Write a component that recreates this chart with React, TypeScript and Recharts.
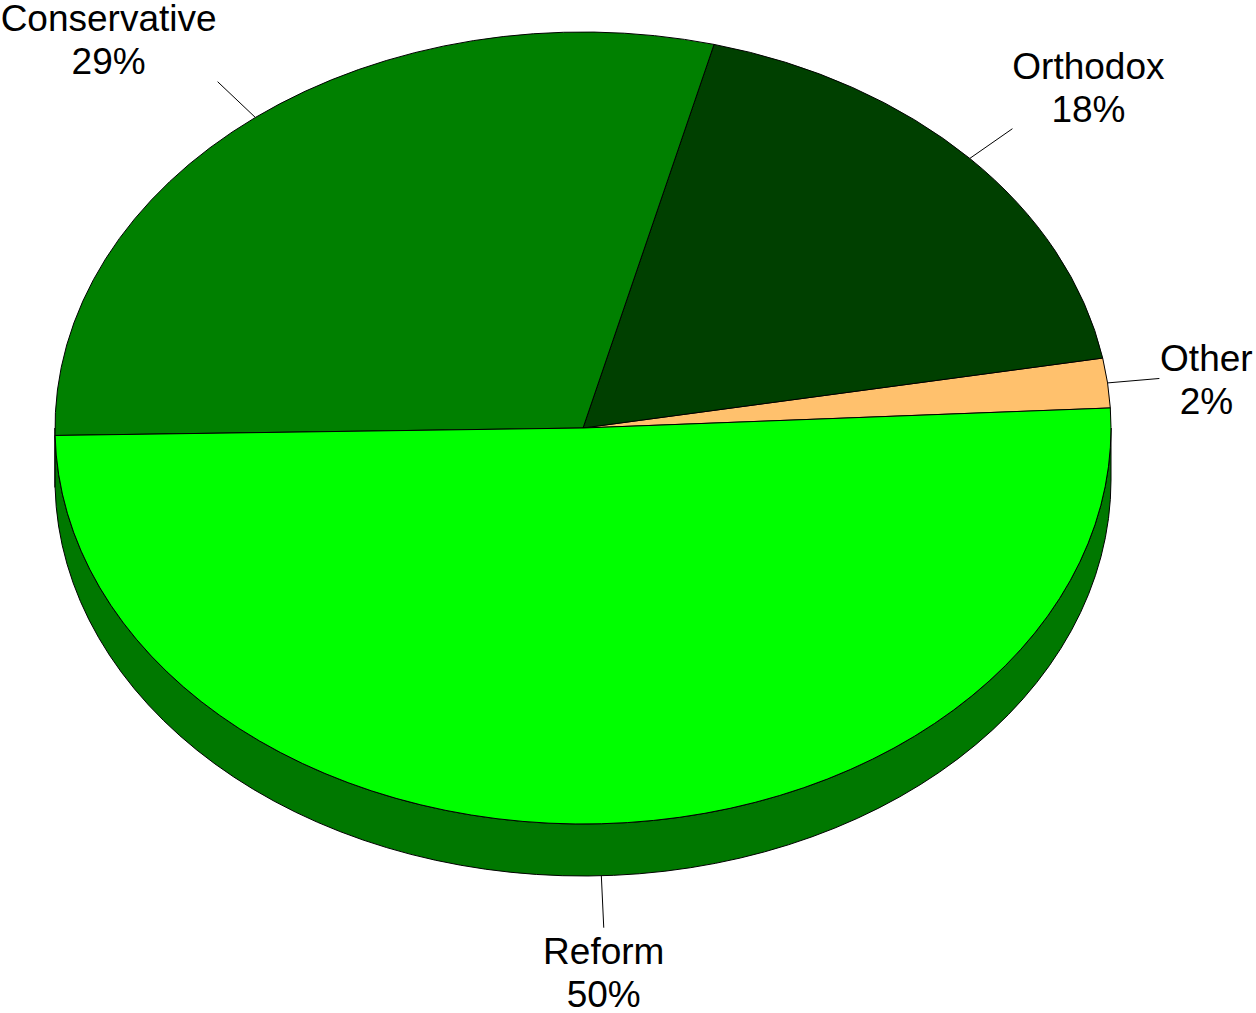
import React from 'react';
import { PieChart, Pie, Cell } from 'recharts';

const categories = ['Other', 'Orthodox', 'Conservative', 'Reform'];
const shares = [2, 18, 29, 50];
const topColors = ['#FFC16D', '#004000', '#008000', '#00FF00'];
const sideColors = ['#C08F50', '#003000', '#007A00', '#007800'];

const data = categories.map((name, i) => ({ name, value: shares[i] }));

// squash of the tilted pie and thickness of its side wall
const TILT = 0.75;
const DEPTH = 52;
const LEADER = 52;
const FONT = 37;
const LINE_GAP = 43;

// text offset from the end of each leader line (center x, first baseline)
const labelOffsets: Record<string, { dx: number; dy: number }> = {
  Conservative: { dx: -109, dy: -51 },
  Orthodox: { dx: 76, dy: -50 },
  Other: { dx: 47, dy: -7 },
  Reform: { dx: 0, dy: 36 },
};

const RAD = Math.PI / 180;

function pt(cx: number, cy: number, rx: number, ry: number, deg: number) {
  return [cx + rx * Math.cos(deg * RAD), cy - ry * Math.sin(deg * RAD)];
}

function EllipseSector(props: any) {
  const { cx, cy, outerRadius, startAngle, endAngle, index } = props;
  const rx = outerRadius;
  const ry = outerRadius * TILT;
  const a1 = Math.min(startAngle, endAngle);
  const a2 = Math.max(startAngle, endAngle);
  const [x1, y1] = pt(cx, cy, rx, ry, a1);
  const [x2, y2] = pt(cx, cy, rx, ry, a2);
  const large = a2 - a1 > 180 ? 1 : 0;
  const top = `M${cx},${cy} L${x1},${y1} A${rx},${ry} 0 ${large} 0 ${x2},${y2} Z`;

  // front wall: parts of the slice that lie in the lower half
  const walls: string[] = [];
  [[180, 360], [540, 720]].forEach(([lo, hi]) => {
    const s1 = Math.max(a1, lo);
    const s2 = Math.min(a2, hi);
    if (s2 - s1 > 0.01) {
      const [p1x, p1y] = pt(cx, cy, rx, ry, s1);
      const [p2x, p2y] = pt(cx, cy, rx, ry, s2);
      const lg = s2 - s1 > 180 ? 1 : 0;
      walls.push(
        `M${p1x},${p1y} A${rx},${ry} 0 ${lg} 0 ${p2x},${p2y} L${p2x},${p2y + DEPTH} A${rx},${ry} 0 ${lg} 1 ${p1x},${p1y + DEPTH} Z`
      );
    }
  });

  return (
    <g>
      {walls.map((d, i) => (
        <path key={i} d={d} fill={sideColors[index]} stroke="#000" strokeWidth={1} />
      ))}
      <path d={top} fill={topColors[index]} stroke="#000" strokeWidth={1} />
    </g>
  );
}

function renderLabel(props: any) {
  const { cx, cy, midAngle, outerRadius, name, value } = props;
  const rx = outerRadius;
  const ry = outerRadius * TILT;
  const [ax, ay0] = pt(cx, cy, rx, ry, midAngle);
  const lower = Math.sin(midAngle * RAD) < 0;
  const ay = lower ? ay0 + DEPTH : ay0;
  const dx = Math.cos(midAngle * RAD) * rx;
  const dy = -Math.sin(midAngle * RAD) * ry;
  const len = Math.hypot(dx, dy);
  const ex = ax + (dx / len) * LEADER;
  const ey = ay + (dy / len) * LEADER;
  const off = labelOffsets[name] || { dx: 0, dy: 0 };
  const tx = ex + off.dx;
  const ty = ey + off.dy;
  return (
    <g>
      <line x1={ax} y1={ay} x2={ex} y2={ey} stroke="#000" strokeWidth={1} />
      <text
        x={tx}
        y={ty}
        textAnchor="middle"
        fill="#000"
        fontSize={FONT}
        fontFamily="'Liberation Sans', Arial, sans-serif"
      >
        <tspan x={tx} y={ty}>{name}</tspan>
        <tspan x={tx} y={ty + LINE_GAP}>{`${value}%`}</tspan>
      </text>
    </g>
  );
}

export default function App() {
  return (
    <div style={{ position: 'absolute', left: 0, top: 0, width: 1256, height: 1013, background: '#fff' }}>
      <PieChart width={1256} height={1013} margin={{ top: 0, right: 0, bottom: 0, left: 0 }}>
        <Pie
          data={data}
          dataKey="value"
          nameKey="name"
          cx={583}
          cy={428}
          outerRadius={528}
          startAngle={2.9}
          endAngle={362.9}
          stroke="#000"
          shape={EllipseSector}
          label={renderLabel}
          labelLine={false}
          isAnimationActive={false}
        >
          {data.map((d, i) => (
            <Cell key={d.name} fill={topColors[i]} />
          ))}
        </Pie>
      </PieChart>
    </div>
  );
}
